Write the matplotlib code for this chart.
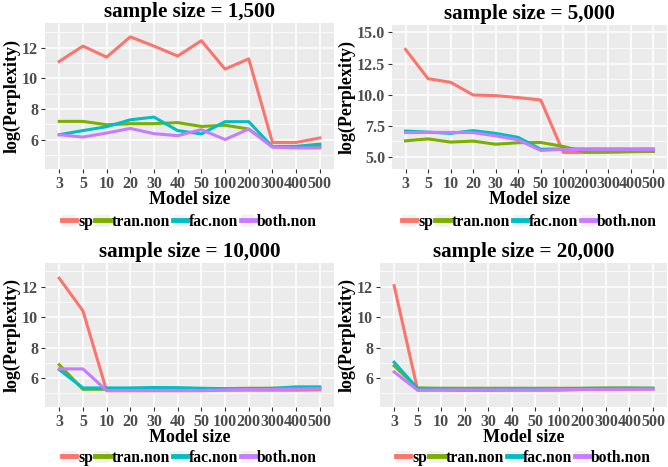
import matplotlib
matplotlib.use("Agg")
import matplotlib.pyplot as plt
from matplotlib.lines import Line2D
from matplotlib.patches import Patch
from matplotlib.legend_handler import HandlerTuple

plt.rcParams['font.family'] = ['Liberation Serif', 'DejaVu Serif']
plt.rcParams['font.weight'] = 'bold'

model_sizes = ["3", "5", "10", "20", "30", "40", "50", "100", "200", "300", "400", "500"]
series_names = ["sp", "tran.non", "fac.non", "both.non"]
colors = ["#F8766D", "#7CAE00", "#00BFC4", "#C77CFF"]

# sample size = 1,500
sp_1500 = [11.1, 12.1, 11.38, 12.7, 12.1, 11.45, 12.45, 10.6, 11.27, 5.83, 5.83, 6.12]
tran_1500 = [7.2, 7.2, 6.98, 7.05, 7.05, 7.12, 6.87, 6.95, 6.7, 5.57, 5.57, 5.57]
fac_1500 = [6.33, 6.6, 6.85, 7.3, 7.48, 6.6, 6.38, 7.18, 7.18, 5.55, 5.57, 5.72]
both_1500 = [6.33, 6.18, 6.44, 6.74, 6.4, 6.27, 6.66, 6.02, 6.7, 5.52, 5.47, 5.47]

# sample size = 5,000
sp_5000 = [13.64, 11.29, 11.0, 9.98, 9.93, 9.77, 9.58, 5.37, 5.37, 5.4, 5.42, 5.45]
tran_5000 = [6.3, 6.46, 6.2, 6.28, 6.03, 6.15, 6.17, 5.85, 5.4, 5.4, 5.45, 5.45]
fac_5000 = [7.09, 7.0, 6.9, 7.12, 6.9, 6.58, 5.63, 5.65, 5.65, 5.65, 5.65, 5.65]
both_5000 = [6.96, 6.98, 6.98, 6.96, 6.7, 6.38, 5.53, 5.62, 5.6, 5.6, 5.6, 5.6]

# sample size = 10,000
sp_10000 = [12.55, 10.41, 5.17, 5.17, 5.17, 5.17, 5.17, 5.2, 5.2, 5.2, 5.2, 5.22]
tran_10000 = [6.87, 5.26, 5.26, 5.3, 5.3, 5.3, 5.3, 5.3, 5.33, 5.33, 5.34, 5.35]
fac_10000 = [6.55, 5.35, 5.35, 5.35, 5.38, 5.37, 5.33, 5.3, 5.3, 5.32, 5.42, 5.42]
both_10000 = [6.6, 6.6, 5.18, 5.18, 5.18, 5.18, 5.18, 5.22, 5.25, 5.25, 5.28, 5.3]

# sample size = 20,000
sp_20000 = [12.06, 5.2, 5.2, 5.2, 5.2, 5.2, 5.2, 5.2, 5.25, 5.25, 5.27, 5.28]
tran_20000 = [6.8, 5.35, 5.33, 5.33, 5.33, 5.33, 5.33, 5.33, 5.33, 5.35, 5.35, 5.33]
fac_20000 = [7.04, 5.3, 5.25, 5.22, 5.22, 5.25, 5.25, 5.25, 5.32, 5.32, 5.33, 5.33]
both_20000 = [6.4, 5.2, 5.22, 5.22, 5.22, 5.22, 5.22, 5.24, 5.25, 5.25, 5.27, 5.27]

panels = [
    ("sample size = 1,500", [sp_1500, tran_1500, fac_1500, both_1500], (4.1, 13.6),
     [6, 8, 10, 12], [5, 7, 9, 11, 13], "%d"),
    ("sample size = 5,000", [sp_5000, tran_5000, fac_5000, both_5000], (4.04, 15.6),
     [5.0, 7.5, 10.0, 12.5, 15.0], [6.25, 8.75, 11.25, 13.75], "%.1f"),
    ("sample size = 10,000", [sp_10000, tran_10000, fac_10000, both_10000], (4.1, 13.55),
     [6, 8, 10, 12], [5, 7, 9, 11, 13], "%d"),
    ("sample size = 20,000", [sp_20000, tran_20000, fac_20000, both_20000], (4.1, 13.55),
     [6, 8, 10, 12], [5, 7, 9, 11, 13], "%d"),
]

# axes rectangles in figure fractions
rects = [
    [0.0674, 0.6381, 0.4326, 0.3126],
    [0.5868, 0.6381, 0.4117, 0.3084],
    [0.0674, 0.1285, 0.4326, 0.3084],
    [0.5689, 0.1285, 0.4296, 0.3084],
]
legend_y = [-0.363, -0.368, -0.355, -0.355]

fig = plt.figure(figsize=(6.68, 4.67), dpi=100)

for (title, data, ylim, yt, ymt, fmt), rect, ly in zip(panels, rects, legend_y):
    ax = fig.add_axes(rect)
    ax.set_facecolor("#EBEBEB")
    x = range(len(model_sizes))
    for vals, c, name in zip(data, colors, series_names):
        ax.plot(x, vals, color=c, lw=2.2, label=name)
    ax.set_xlim(-0.6, len(model_sizes) - 0.4)
    ax.set_ylim(*ylim)
    ax.set_xticks(list(x))
    ax.set_xticklabels(model_sizes)
    ax.set_yticks(yt)
    ax.set_yticklabels([fmt % v for v in yt])
    ax.set_yticks(ymt, minor=True)
    ax.grid(True, which="major", color="white", lw=1.1)
    ax.grid(True, which="minor", axis="y", color="white", lw=0.55)
    ax.set_axisbelow(True)
    for s in ax.spines.values():
        s.set_visible(False)
    ax.tick_params(axis="both", which="major", length=3, width=0.8, color="#333333",
                   labelsize=11.5, labelcolor="#4D4D4D", pad=2)
    ax.tick_params(axis="both", which="minor", length=0)
    for lab in ax.get_xticklabels() + ax.get_yticklabels():
        lab.set_fontweight("bold")
    ax.set_title(title, fontsize=15.2, fontweight="bold", pad=4)
    ax.set_xlabel("Model size", fontsize=13, fontweight="bold", labelpad=-1)
    ax.set_ylabel("log(Perplexity)", fontsize=13, fontweight="bold", labelpad=1)

    handles = [(Patch(facecolor="#F2F2F2", edgecolor="none"),
                Line2D([], [], color=c, lw=3.5)) for c in colors]
    ax.legend(handles, series_names, loc="center", bbox_to_anchor=(0.5, ly),
              ncol=4, frameon=False, handlelength=0.9, handleheight=0.8,
              handletextpad=0.15, columnspacing=0.15, borderaxespad=0,
              handler_map={tuple: HandlerTuple(ndivide=1)},
              prop={"weight": "bold", "size": 11.3})

fig.savefig("out.png", dpi=100)
